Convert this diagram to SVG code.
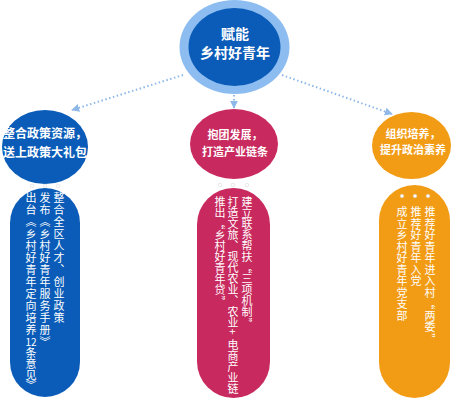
<svg xmlns="http://www.w3.org/2000/svg" width="461" height="400" viewBox="0 0 461 400">
<style>
.title{font-family:"Noto Sans CJK SC","Liberation Sans",sans-serif;font-weight:bold;fill:#fff;text-anchor:middle}
.vt{font-family:"Noto Sans CJK SC","Liberation Sans",sans-serif;font-size:11px;fill:#fff;writing-mode:vertical-rl}
.ht{font-family:"Noto Sans CJK SC","Liberation Sans",sans-serif;font-size:10px;fill:#fff;text-anchor:middle}
.conn{stroke:#8DB8E8;stroke-width:2;stroke-dasharray:1.5 2.5;fill:none}
.dot{fill:#fff;stroke:#d0d0d0;stroke-width:0.5}
</style>
<defs>
<marker id="arr" viewBox="0 0 10 10" refX="9" refY="5" markerWidth="4" markerHeight="4" orient="auto">
<path d="M0,0 L10,5 L0,10 z" fill="#8DB8E8"/>
</marker>
</defs>
<rect width="461" height="400" fill="#fff"/>
<g id="connectors">
<line class="conn" x1="183" y1="75" x2="72" y2="110" marker-end="url(#arr)"/>
<line class="conn" x1="282" y1="75" x2="392" y2="114" marker-end="url(#arr)"/>
<line class="conn" x1="234" y1="95" x2="234" y2="108" marker-end="url(#arr)"/>
</g>
<g id="root">
<ellipse cx="234.5" cy="47" rx="55" ry="47" fill="#8DBDF0"/>
<ellipse cx="234.5" cy="47" rx="46" ry="39" fill="#0A5CB8"/>
<text class="title" x="235" y="39" font-size="14">赋能</text>
<text class="title" x="235" y="58" font-size="14">乡村好青年</text>
</g>
<g id="node-left">
<ellipse cx="45" cy="147" rx="43" ry="37" fill="#0A5CB8"/>
<text class="title" x="45" y="138" font-size="12">整合政策资源，</text>
<text class="title" x="45" y="157" font-size="12">送上政策大礼包</text>
<rect x="10" y="188" width="70" height="209" rx="35" fill="#0A5CB8"/>
<circle class="dot" cx="32" cy="186" r="1.8"/>
<circle class="dot" cx="45" cy="186" r="1.8"/>
<circle class="dot" cx="58" cy="186" r="1.8"/>
<text class="vt" x="59" y="192.5 204.5 216.5 228.5 240.5 252.5 264.5 276.5 288.5 300.5 312.5">整合全区人才、创业政策</text>
<text class="vt" x="45" y="192.5 204.5 216.5 228.5 240.5 252.5 264.5 276.5 288.5 300.5 312.5 324.5 336.5">发布《乡村好青年服务手册》</text>
<text class="vt" x="31" y="192.5 204.5 216.5 228.5 240.5 252.5 264.5 276.5 288.5 300.5 312.5 324.5">出台《乡村好青年定向培养</text>
<text class="ht" x="31" y="345.5">12</text>
<text class="vt" x="31" y="347.5 358.5 369.5 379.5">条意见》</text>
</g>
<g id="node-middle">
<ellipse cx="234" cy="144" rx="44" ry="35" fill="#C8295E"/>
<text class="title" x="235" y="139" font-size="11">抱团发展，</text>
<text class="title" x="235" y="156" font-size="11">打造产业链条</text>
<rect x="197" y="188" width="73" height="210" rx="36.5" fill="#C8295E"/>
<circle class="dot" cx="220" cy="185" r="1.8"/>
<circle class="dot" cx="233" cy="185" r="1.8"/>
<circle class="dot" cx="247" cy="185" r="1.8"/>
<text class="vt" x="247" y="196.5 207.5 218.5 229.5 240.5 251.5 262.5 273.5 284.5 295.5 306.5 317.5">建立联系帮扶“三项机制”</text>
<text class="vt" x="233" y="196.5 207.5 218.5 229.5 240.5 251.5 262.5 273.5 284.5 295.5 306.5 317.5 328.5 339.5 350.5 361.5 372.5 383.5">打造文旅、现代农业、农业+电商产业链</text>
<text class="vt" x="220" y="196.5 207.5 218.5 229.5 240.5 251.5 262.5 273.5 284.5 295.5">推出“乡村好青年贷”</text>
</g>
<g id="node-right">
<ellipse cx="411.5" cy="145.5" rx="39.5" ry="33.5" fill="#F29C16"/>
<text class="title" x="413" y="138" font-size="11">组织培养，</text>
<text class="title" x="413" y="154" font-size="11">提升政治素养</text>
<rect x="379" y="185" width="71" height="213" rx="35.5" fill="#F29C16"/>
<circle class="dot" cx="402" cy="196" r="1.8"/>
<circle class="dot" cx="415" cy="196" r="1.8"/>
<circle class="dot" cx="428" cy="196" r="1.8"/>
<text class="vt" x="430" y="206.5 218 229.5 241 252.5 264 275.5 287 298.5 310 321.5 333">推荐好青年进入村“两委”</text>
<text class="vt" x="416" y="206.5 218 229.5 241 252.5 264 275.5">推荐好青年入党</text>
<text class="vt" x="402" y="206.5 218 229.5 241 252.5 264 275.5 287 298.5 310">成立乡村好青年党支部</text>
</g>
</svg>
